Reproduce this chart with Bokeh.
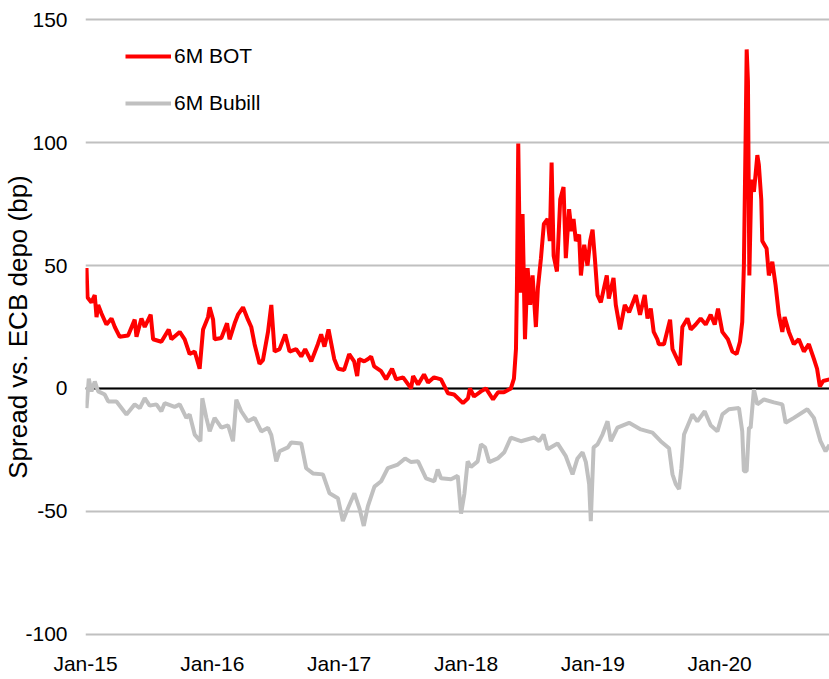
from bokeh.plotting import figure
from bokeh.models import Range1d, FixedTicker, Legend, LegendItem, Span
from bokeh.embed import file_html
from bokeh.resources import INLINE

# ---- data (decimal years, bp) ----
bot_t = [2015.008, 2015.016, 2015.047, 2015.073, 2015.087, 2015.100, 2015.126, 2015.165, 2015.205, 2015.231,
         2015.270, 2015.336, 2015.388, 2015.402, 2015.441, 2015.467, 2015.514, 2015.533, 2015.598, 2015.656,
         2015.677, 2015.743, 2015.782, 2015.821, 2015.861, 2015.900, 2015.927, 2015.966, 2015.979, 2016.006,
         2016.018, 2016.071, 2016.116, 2016.136, 2016.176, 2016.202, 2016.242, 2016.281, 2016.307, 2016.333,
         2016.372, 2016.399, 2016.439, 2016.465, 2016.491, 2016.530, 2016.575, 2016.609, 2016.661, 2016.701,
         2016.732, 2016.780, 2016.832, 2016.858, 2016.884, 2016.916, 2016.961, 2016.992, 2017.039, 2017.079,
         2017.118, 2017.142, 2017.157, 2017.197, 2017.228, 2017.252, 2017.276, 2017.331, 2017.370, 2017.417,
         2017.449, 2017.504, 2017.567, 2017.583, 2017.622, 2017.669, 2017.701, 2017.748, 2017.803, 2017.858,
         2017.906, 2017.976, 2018.016, 2018.031, 2018.063, 2018.118, 2018.157, 2018.213, 2018.252, 2018.299,
         2018.354, 2018.378, 2018.394, 2018.402, 2018.412, 2018.428, 2018.446, 2018.465, 2018.486, 2018.506,
         2018.525, 2018.551, 2018.567, 2018.591, 2018.614, 2018.643, 2018.661, 2018.675, 2018.691, 2018.717,
         2018.743, 2018.769, 2018.787, 2018.813, 2018.832, 2018.848, 2018.866, 2018.892, 2018.906, 2018.932,
         2018.958, 2018.979, 2018.998, 2019.016, 2019.037, 2019.063, 2019.110, 2019.126, 2019.163, 2019.181,
         2019.215, 2019.252, 2019.286, 2019.339, 2019.372, 2019.409, 2019.431, 2019.457, 2019.480, 2019.509,
         2019.520, 2019.561, 2019.609, 2019.628, 2019.687, 2019.706, 2019.746, 2019.772, 2019.811, 2019.850,
         2019.890, 2019.929, 2019.961, 2019.987, 2020.021, 2020.065, 2020.100, 2020.134, 2020.160, 2020.178,
         2020.191, 2020.205, 2020.213, 2020.223, 2020.234, 2020.250, 2020.270, 2020.283, 2020.297, 2020.309,
         2020.328, 2020.336, 2020.370, 2020.388, 2020.415, 2020.441, 2020.467, 2020.494, 2020.512, 2020.546,
         2020.585, 2020.624, 2020.664, 2020.703, 2020.743, 2020.768, 2020.790, 2020.816, 2020.866]
bot_v = [49, 37, 35, 38, 29, 34, 30.5, 26, 28.5, 25,
         21, 21.5, 28, 21, 28.5, 25, 30, 20, 19, 24,
         20, 23, 20, 14, 15, 8, 24, 29, 33, 28,
         20, 20.5, 26.5, 20, 26.5, 30, 33, 28, 25, 18,
         10, 11.5, 23, 34, 15, 16, 22, 15, 16, 13,
         16, 11, 18, 22, 17, 24, 12, 8, 7.5, 14,
         11, 5, 12, 11, 12, 13, 9, 7, 3.7, 8,
         3.7, 4.5, 0, 5, 1.6, 5.7, 2.4, 4.5, 3.7, -2,
         -2.5, -6, -4, 0, -3.3, -1.2, 0, -4.5, -1.6, -1.6,
         0, 4, 16, 43, 99.7, 39, 71, 20, 49, 34,
         46, 25, 41, 53, 67, 69, 60, 92, 54, 47.6,
         77, 82, 53, 73, 64, 69, 60, 62.6, 46, 58.5,
         50, 60, 64.6, 53, 38, 35, 46, 36.6, 45, 34,
         24, 34, 31, 38, 30, 38, 28.5, 32.5, 23, 20,
         18, 18, 28, 16, 9.5, 25, 28.5, 24, 26, 28.5,
         26, 30, 26, 32.5, 23, 20, 15, 14, 19, 27,
         50, 104, 138, 125, 46, 85, 80, 87, 95, 91,
         77, 60, 57, 46, 51.6, 42, 30, 23, 29, 23,
         18, 20, 15, 18, 12, 8, 0.8, 3, 3.7]

bubill_t = [2015.008, 2015.026, 2015.047, 2015.073, 2015.100, 2015.152, 2015.179, 2015.244, 2015.323, 2015.388,
            2015.428, 2015.467, 2015.506, 2015.559, 2015.598, 2015.624, 2015.703, 2015.743, 2015.795, 2015.821,
            2015.861, 2015.906, 2015.921, 2015.953, 2015.979, 2016.018, 2016.071, 2016.124, 2016.163, 2016.189,
            2016.228, 2016.281, 2016.333, 2016.386, 2016.439, 2016.465, 2016.504, 2016.530, 2016.596, 2016.622,
            2016.701, 2016.740, 2016.793, 2016.872, 2016.924, 2016.990, 2017.029, 2017.069, 2017.120, 2017.160,
            2017.194, 2017.226, 2017.278, 2017.331, 2017.383, 2017.462, 2017.520, 2017.567, 2017.622, 2017.685,
            2017.750, 2017.777, 2017.803, 2017.882, 2017.935, 2017.961, 2017.987, 2018.013, 2018.039, 2018.092,
            2018.118, 2018.150, 2018.183, 2018.250, 2018.302, 2018.354, 2018.433, 2018.538, 2018.577, 2018.612,
            2018.643, 2018.722, 2018.787, 2018.840, 2018.879, 2018.919, 2018.945, 2018.971, 2018.984, 2019.006,
            2019.037, 2019.076, 2019.116, 2019.142, 2019.194, 2019.286, 2019.378, 2019.470, 2019.535, 2019.601,
            2019.628, 2019.654, 2019.680, 2019.698, 2019.719, 2019.785, 2019.824, 2019.882, 2019.929, 2019.982,
            2020.021, 2020.073, 2020.152, 2020.178, 2020.191, 2020.213, 2020.231, 2020.244, 2020.270, 2020.297,
            2020.349, 2020.428, 2020.494, 2020.520, 2020.585, 2020.691, 2020.743, 2020.795, 2020.835, 2020.866]
bubill_v = [-8, 4, -1.2, 2.8, -1.2, -2.5, -5.3, -5.3, -10.6, -6.5,
            -8, -4, -7, -6.5, -9.3, -6, -7.5, -6.5, -12, -10.6,
            -18.8, -21.5, -4, -12, -17.5, -12, -16, -15, -21.5, -4.6,
            -9.3, -13.4, -12, -17.5, -16, -19, -29.7, -25.6, -24, -22,
            -22.4, -32.5, -34.6, -35, -42.7, -44.7, -54, -48.8, -42.7, -48.8,
            -56, -48, -40, -37.8, -32.5, -31, -28.5, -30, -29.7, -36.6,
            -37.8, -33, -36.6, -37, -35.6, -51, -43, -29.7, -32, -29.7,
            -22.8, -24, -30, -28.5, -26, -20, -21.5, -20, -21.5, -18.8,
            -24.8, -22.4, -27.6, -35, -28.5, -26, -30, -39, -54, -24,
            -22.8, -18.8, -13.4, -21.5, -16, -14, -16.7, -18, -21.5, -24.4,
            -35, -39, -41, -32.5, -18.8, -10.6, -13.4, -9.3, -15, -17.5,
            -10.6, -8.5, -8, -17.5, -33.7, -33.7, -16, -16, -0.4, -6.5,
            -4.5, -5.7, -6.5, -14, -12, -8.5, -12, -21.5, -25.6, -23]

series_names = ["6M BOT", "6M Bubill"]
x_tick_years = [2015, 2016, 2017, 2018, 2019, 2020]
x_tick_labels = ["Jan-15", "Jan-16", "Jan-17", "Jan-18", "Jan-19", "Jan-20"]
y_ticks = [-100, -50, 0, 50, 100, 150]
y_tick_labels = ["-100", "-50", "0", "50", "100", "150"]

FONT = "Liberation Sans"

p = figure(width=829, height=679, output_backend="svg", toolbar_location=None,
           x_range=Range1d(2015.0, 2020.866), y_range=Range1d(-101, 151),
           min_border_left=84, min_border_right=0, min_border_top=17, min_border_bottom=43)
p.outline_line_color = None
p.background_fill_color = "white"
p.border_fill_color = "white"

p.xgrid.grid_line_color = None
p.ygrid.ticker = FixedTicker(ticks=y_ticks)
p.ygrid.grid_line_color = "#C0C0C0"
p.ygrid.grid_line_width = 2

zero = Span(location=0, dimension="width", line_color="black", line_width=2, level="underlay")
p.add_layout(zero)

r_bub = p.line(bubill_t, bubill_v, line_color="#C0C0C0", line_width=4)
r_bot = p.line(bot_t, bot_v, line_color="#FF0000", line_width=4)

# axes
for ax in (p.xaxis[0], p.yaxis[0]):
    ax.axis_line_color = None
    ax.major_tick_line_color = None
    ax.minor_tick_line_color = None
    ax.major_tick_out = 0
    ax.major_tick_in = 0
    ax.major_label_text_font = FONT
    ax.major_label_text_font_size = "21px"
    ax.major_label_text_color = "#000000"

p.xaxis.ticker = FixedTicker(ticks=x_tick_years)
p.xaxis.major_label_overrides = {y: l for y, l in zip(x_tick_years, x_tick_labels)}
p.xaxis.major_label_standoff = 15

p.yaxis.ticker = FixedTicker(ticks=y_ticks)
p.yaxis.major_label_overrides = {t: l for t, l in zip(y_ticks, y_tick_labels)}
p.yaxis.major_label_standoff = 18
p.yaxis.axis_label = "Spread vs. ECB depo (bp)"
p.yaxis.axis_label_text_font = FONT
p.yaxis.axis_label_text_font_size = "26px"
p.yaxis.axis_label_text_font_style = "normal"
p.yaxis.axis_label_text_color = "#000000"
p.yaxis.axis_label_standoff = -11

legend = Legend(items=[LegendItem(label=series_names[0], renderers=[r_bot]),
                       LegendItem(label=series_names[1], renderers=[r_bub])],
                location=(40, 518), border_line_color=None, background_fill_alpha=0,
                padding=0, margin=0, spacing=17, glyph_width=46, glyph_height=30,
                label_height=30, label_standoff=3,
                label_text_font=FONT, label_text_font_size="21px", label_text_color="#000000")
p.add_layout(legend)

open("out.html", "w").write(file_html(p, INLINE))
